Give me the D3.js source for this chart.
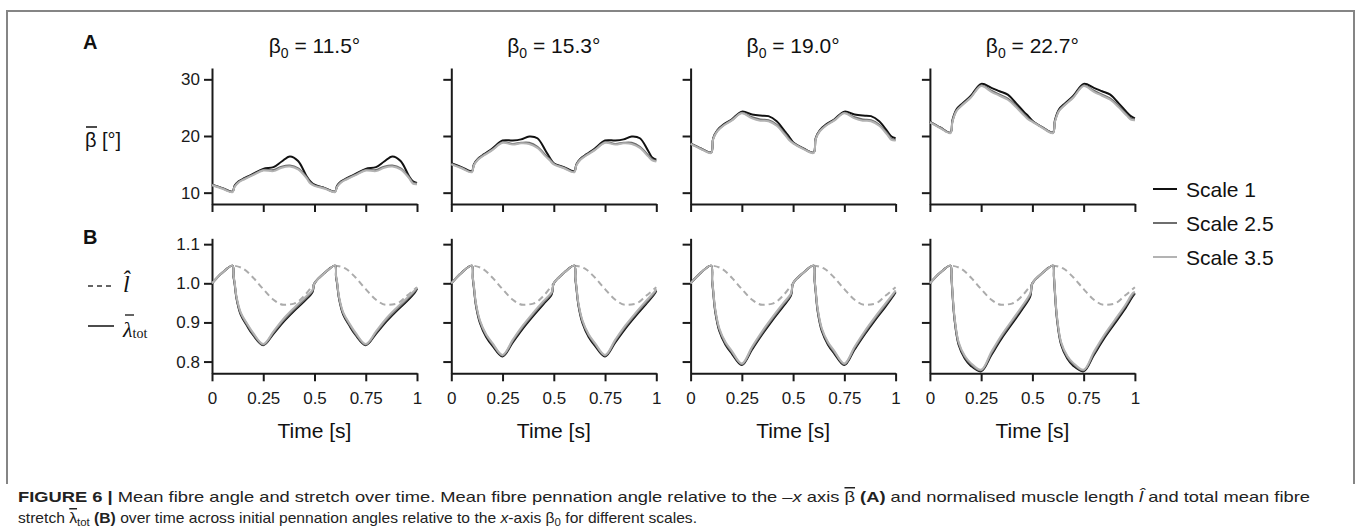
<!DOCTYPE html>
<html>
<head>
<meta charset="utf-8">
<script src="https://d3js.org/d3.v7.min.js"></script>
<style>
  body { margin: 0; background: #fff; }
  svg { display: block; font-family: "Liberation Sans", Arial, sans-serif; }
  .axis path, .axis line { stroke: #1a1a1a; stroke-width: 2; }
  .axis text { font-size: 17px; fill: #1a1a1a; font-family: "Liberation Sans", Arial, sans-serif; }
</style>
</head>
<body>
<script>
// panel titles (initial pennation angle)
var betaZero = ["11.5", "15.3", "19.0", "22.7"];
var scaleNames = ["Scale 1", "Scale 2.5", "Scale 3.5"];
var scaleColors = ["#111111", "#6e6e6e", "#b3b3b3"];

var xTicks = [0, 0.25, 0.5, 0.75, 1];
var yTicksTop = [10, 20, 30];
var yTicksBottom = [0.8, 0.9, 1.0, 1.1];

// time samples for panel A curves
var timeTop = [0, .05, .1, .11, .13, .16, .2, .25, .3, .34, .38, .42, .46, .48, .5,
  .55, .6, .61, .63, .66, .7, .75, .8, .84, .88, .92, .96, .98, 1];

// mean fibre angle [deg], one array per panel
var betaScale1 = [
  [11.4,10.8,10.2,11.2,12.0,12.6,13.3,14.2,14.5,15.5,16.4,15.6,13.0,12.0,11.4, 10.8,10.2,11.2,12.0,12.6,13.3,14.2,14.5,15.5,16.4,15.6,13.0,12.0, 11.7],
  [15.2,14.5,13.8,15.0,16.0,16.8,17.8,19.2,19.2,19.4,19.9,19.6,17.4,16.2,15.2, 14.5,13.8,15.0,16.0,16.8,17.8,19.2,19.2,19.4,19.9,19.6,17.4,16.2, 15.8],
  [18.7,17.8,17.1,19.6,21.0,22.0,22.9,24.3,23.8,23.6,23.5,22.6,20.8,19.9,18.9, 17.8,17.1,19.6,21.0,22.0,22.9,24.3,23.8,23.6,23.5,22.6,20.8,19.9, 19.6],
  [22.5,21.5,20.6,22.8,24.7,25.8,27.1,29.2,28.5,27.9,27.3,25.8,24.2,23.5,22.7, 21.5,20.6,22.8,24.7,25.8,27.1,29.2,28.5,27.9,27.3,25.8,24.2,23.5, 23.1]
];
var betaScale25 = [
  [11.4,10.8,10.2,11.1,11.9,12.5,13.2,14.0,14.0,14.6,14.8,14.3,12.8,11.8,11.3, 10.8,10.2,11.1,11.9,12.5,13.2,14.0,14.0,14.6,14.8,14.3,12.8,11.8, 11.6],
  [15.1,14.4,13.7,14.9,15.9,16.7,17.6,18.9,18.6,18.8,18.8,18.1,16.6,15.9,15.1, 14.4,13.7,14.9,15.9,16.7,17.6,18.9,18.6,18.8,18.8,18.1,16.6,15.9, 15.6],
  [18.7,17.8,17.1,19.5,20.9,21.9,22.8,24.1,23.3,22.9,22.8,22.0,20.4,19.5,18.8, 17.8,17.1,19.5,20.9,21.9,22.8,24.1,23.3,22.9,22.8,22.0,20.4,19.5, 19.3],
  [22.5,21.5,20.6,22.6,24.5,25.6,26.9,28.9,28.0,27.3,26.6,25.3,23.8,23.1,22.6, 21.5,20.6,22.6,24.5,25.6,26.9,28.9,28.0,27.3,26.6,25.3,23.8,23.1, 22.9]
];
var betaScale35 = [
  [11.3,10.7,10.1,11.0,11.8,12.4,13.1,13.9,13.8,14.4,14.6,14.1,12.6,11.6,11.2, 10.7,10.1,11.0,11.8,12.4,13.1,13.9,13.8,14.4,14.6,14.1,12.6,11.6, 11.5],
  [15.0,14.3,13.6,14.8,15.8,16.6,17.5,18.8,18.5,18.7,18.6,17.9,16.4,15.7,15.0, 14.3,13.6,14.8,15.8,16.6,17.5,18.8,18.5,18.7,18.6,17.9,16.4,15.7, 15.5],
  [18.6,17.7,17.0,19.4,20.8,21.8,22.7,24.0,23.1,22.7,22.6,21.8,20.2,19.3,18.7, 17.7,17.0,19.4,20.8,21.8,22.7,24.0,23.1,22.7,22.6,21.8,20.2,19.3, 19.2],
  [22.4,21.4,20.5,22.5,24.4,25.5,26.8,28.8,27.8,27.1,26.4,25.1,23.6,22.9,22.5, 21.4,20.5,22.5,24.4,25.5,26.8,28.8,27.8,27.1,26.4,25.1,23.6,22.9, 22.8]
];

// time samples for panel B stretch curves
var timeBottom = [0, .05, .1, .105, .11, .12, .14, .17, .2, .25, .3, .35, .4, .45, .49, .5,
  .55, .6, .605, .61, .62, .64, .67, .7, .75, .8, .85, .9, .95, .99, 1];

var lambdaScale1 = [
  [1.0,1.027,1.045,1.016,1.0,0.96,0.92,0.892,0.868,0.842,0.871,0.902,0.929,0.954,0.977,1.0, 1.027,1.045,1.016,1.0,0.96,0.92,0.892,0.868,0.842,0.871,0.902,0.929,0.954,0.977, 0.986],
  [1.0,1.027,1.045,1.011,0.989,0.944,0.898,0.863,0.841,0.813,0.849,0.885,0.917,0.947,0.972,1.0, 1.027,1.045,1.011,0.989,0.944,0.898,0.863,0.841,0.813,0.849,0.885,0.917,0.947,0.972, 0.981],
  [1.0,1.027,1.045,1.006,0.979,0.928,0.878,0.843,0.821,0.791,0.831,0.870,0.906,0.940,0.969,1.0, 1.027,1.045,1.006,0.979,0.928,0.878,0.843,0.821,0.791,0.831,0.870,0.906,0.940,0.969, 0.977],
  [1.0,1.027,1.045,1.016,0.974,0.908,0.843,0.808,0.789,0.775,0.817,0.859,0.896,0.933,0.967,1.0, 1.027,1.045,1.016,0.974,0.908,0.843,0.808,0.789,0.775,0.817,0.859,0.896,0.933,0.967, 0.974]
];
var lambdaScale25 = [
  [1.0,1.027,1.045,1.018,1.002,0.962,0.923,0.895,0.871,0.843,0.874,0.906,0.933,0.958,0.980,1.0, 1.027,1.045,1.018,1.002,0.962,0.923,0.895,0.871,0.843,0.874,0.906,0.933,0.958,0.980, 0.988],
  [1.0,1.027,1.045,1.013,0.992,0.947,0.902,0.867,0.845,0.815,0.853,0.889,0.921,0.951,0.975,1.0, 1.027,1.045,1.013,0.992,0.947,0.902,0.867,0.845,0.815,0.853,0.889,0.921,0.951,0.975, 0.983],
  [1.0,1.027,1.045,1.008,0.982,0.932,0.882,0.847,0.825,0.793,0.835,0.874,0.910,0.944,0.972,1.0, 1.027,1.045,1.008,0.982,0.932,0.882,0.847,0.825,0.793,0.835,0.874,0.910,0.944,0.972, 0.979],
  [1.0,1.027,1.045,1.018,0.977,0.912,0.847,0.812,0.793,0.777,0.821,0.864,0.901,0.938,0.971,1.0, 1.027,1.045,1.018,0.977,0.912,0.847,0.812,0.793,0.777,0.821,0.864,0.901,0.938,0.971, 0.976]
];
var lambdaScale35 = [
  [1.0,1.027,1.045,1.020,1.005,0.965,0.926,0.898,0.874,0.845,0.877,0.910,0.937,0.962,0.983,1.0, 1.027,1.045,1.020,1.005,0.965,0.926,0.898,0.874,0.845,0.877,0.910,0.937,0.962,0.983, 0.990],
  [1.0,1.027,1.045,1.015,0.995,0.950,0.905,0.870,0.848,0.817,0.856,0.893,0.925,0.955,0.978,1.0, 1.027,1.045,1.015,0.995,0.950,0.905,0.870,0.848,0.817,0.856,0.893,0.925,0.955,0.978, 0.985],
  [1.0,1.027,1.045,1.010,0.985,0.935,0.885,0.850,0.828,0.795,0.838,0.878,0.914,0.948,0.975,1.0, 1.027,1.045,1.010,0.985,0.935,0.885,0.850,0.828,0.795,0.838,0.878,0.914,0.948,0.975, 0.982],
  [1.0,1.027,1.045,1.020,0.980,0.915,0.850,0.815,0.796,0.779,0.825,0.868,0.905,0.942,0.975,1.0, 1.027,1.045,1.020,0.980,0.915,0.850,0.815,0.796,0.779,0.825,0.868,0.905,0.942,0.975, 0.978]
];

// normalised muscle length (same in every panel)
var timeDash = [0, .05, .1, .15, .2, .25, .3, .35, .4, .45, .5, .55, .6, .65, .7, .75, .8, .85, .9, .95, 1];
var lengthHat = [1.0, 1.027, 1.045, 1.038, 1.015, 0.985, 0.958, 0.945, 0.948, 0.968, 1.0,
  1.027, 1.045, 1.038, 1.015, 0.985, 0.958, 0.945, 0.948, 0.968, 0.99];

var W = 1357, H = 529;
var svg = d3.select("body").append("svg").attr("width", W).attr("height", H);

// frame around the figure
svg.append("path")
  .attr("d", "M7,484V11H1354V484")
  .attr("fill", "none").attr("stroke", "#858585").attr("stroke-width", 2);

var panelLeft = 212, panelStep = 239.3, panelW = 205;
var yTop = d3.scaleLinear().domain([8, 32]).range([204, 68]);
var yBot = d3.scaleLinear().domain([0.77, 1.115]).range([373.3, 238.3]);

var betaSets = [betaScale1, betaScale25, betaScale35];
var lambdaSets = [lambdaScale1, lambdaScale25, lambdaScale35];
var smooth = d3.curveCatmullRom.alpha(0.5);

betaZero.forEach(function(b0, i) {
  var x0 = panelLeft + i * panelStep;
  var x = d3.scaleLinear().domain([0, 1]).range([x0, x0 + panelW]);
  var cx = x0 + panelW / 2;

  // title
  var t = svg.append("text").attr("x", cx).attr("y", 53)
    .attr("text-anchor", "middle").style("font-size", "21px").attr("fill", "#111");
  t.append("tspan").text("β");
  t.append("tspan").attr("dy", 5).style("font-size", "14px").text("0");
  t.append("tspan").attr("dy", -5).text(" = " + b0 + "°");

  // --- panel A
  svg.append("g").attr("class", "axis").attr("transform", "translate(0,204)")
    .call(d3.axisBottom(x).tickValues(xTicks).tickSize(8).tickSizeOuter(0).tickFormat(""));
  svg.append("g").attr("class", "axis").attr("transform", "translate(" + x0 + ",0)")
    .call(d3.axisLeft(yTop).tickValues(yTicksTop).tickSize(8).tickSizeOuter(0)
      .tickPadding(4).tickFormat(i === 0 ? d3.format("d") : ""));

  var lineTop = d3.line().curve(smooth)
    .x(function(d, k) { return x(timeTop[k]); }).y(function(d) { return yTop(d); });
  betaSets.forEach(function(set, s) {
    svg.append("path").attr("d", lineTop(set[i]))
      .attr("fill", "none").attr("stroke", scaleColors[s]).attr("stroke-width", 2)
      .attr("stroke-linejoin", "round");
  });

  // --- panel B
  svg.append("g").attr("class", "axis").attr("transform", "translate(0,373.3)")
    .call(d3.axisBottom(x).tickValues(xTicks).tickSize(8).tickSizeOuter(0).tickPadding(11)
      .tickFormat(d3.format("")));
  svg.append("g").attr("class", "axis").attr("transform", "translate(" + x0 + ",0)")
    .call(d3.axisLeft(yBot).tickValues(yTicksBottom).tickSize(8).tickSizeOuter(0)
      .tickPadding(4).tickFormat(i === 0 ? d3.format(".1f") : ""));

  var lineDash = d3.line().curve(d3.curveMonotoneX)
    .x(function(d, k) { return x(timeDash[k]); }).y(function(d) { return yBot(d); });
  svg.append("path").attr("d", lineDash(lengthHat))
    .attr("fill", "none").attr("stroke", "#ababab").attr("stroke-width", 2)
    .attr("stroke-dasharray", "6,4");

  var lineBot = d3.line().curve(smooth)
    .x(function(d, k) { return x(timeBottom[k]); }).y(function(d) { return yBot(d); });
  lambdaSets.forEach(function(set, s) {
    svg.append("path").attr("d", lineBot(set[i]))
      .attr("fill", "none").attr("stroke", scaleColors[s]).attr("stroke-width", 2)
      .attr("stroke-linejoin", "round");
  });

  svg.append("text").attr("x", cx).attr("y", 438).attr("text-anchor", "middle")
    .style("font-size", "21px").attr("fill", "#111").text("Time [s]");
});

// panel letters
svg.append("text").attr("x", 83).attr("y", 49).style("font-size", "20px")
  .style("font-weight", "bold").attr("fill", "#111").text("A");
svg.append("text").attr("x", 83).attr("y", 244).style("font-size", "20px")
  .style("font-weight", "bold").attr("fill", "#111").text("B");

// y label of panel A
svg.append("text").attr("x", 85).attr("y", 147).style("font-size", "20px")
  .attr("fill", "#111").text("β [°]");
svg.append("line").attr("x1", 86).attr("x2", 97).attr("y1", 127).attr("y2", 127)
  .attr("stroke", "#111").attr("stroke-width", 1.5);

// key for panel B
svg.append("line").attr("x1", 88).attr("x2", 114).attr("y1", 286).attr("y2", 286)
  .attr("stroke", "#333").attr("stroke-width", 1.5).attr("stroke-dasharray", "5,4");
svg.append("text").attr("x", 123).attr("y", 292)
  .style("font-family", "'Liberation Serif', serif").style("font-style", "italic")
  .style("font-size", "24px").attr("fill", "#111").text("l\u0302");
svg.append("line").attr("x1", 88).attr("x2", 114).attr("y1", 326).attr("y2", 326)
  .attr("stroke", "#111").attr("stroke-width", 1.5);
var lam = svg.append("text").attr("x", 123).attr("y", 337)
  .style("font-family", "'Liberation Serif', serif").attr("fill", "#111");
lam.append("tspan").style("font-style", "italic").style("font-size", "22px").text("λ");
lam.append("tspan").style("font-size", "14px").attr("dy", 1).text("tot");
svg.append("line").attr("x1", 125).attr("x2", 134).attr("y1", 315).attr("y2", 315)
  .attr("stroke", "#111").attr("stroke-width", 1.3);

// legend
scaleNames.forEach(function(name, s) {
  var ly = 189 + s * 34;
  svg.append("line").attr("x1", 1153).attr("x2", 1177).attr("y1", ly).attr("y2", ly)
    .attr("stroke", scaleColors[s]).attr("stroke-width", 2);
  svg.append("text").attr("x", 1186).attr("y", ly).attr("dy", "0.36em")
    .style("font-size", "21px").attr("fill", "#111").text(name);
});

// caption
var cap1 = svg.append("text").attr("x", 18).attr("y", 502)
  .attr("textLength", 1292).attr("lengthAdjust", "spacingAndGlyphs")
  .style("font-family", "'Liberation Sans Narrow', 'Liberation Sans', sans-serif")
  .style("font-size", "15px").attr("fill", "#222");
cap1.append("tspan").style("font-weight", "bold").text("FIGURE 6 | ");
cap1.append("tspan").text("Mean fibre angle and stretch over time. Mean fibre pennation angle relative to the \u2013");
cap1.append("tspan").style("font-style", "italic").text("x");
cap1.append("tspan").text(" axis ");
cap1.append("tspan").style("text-decoration", "overline").text("\u03b2");
cap1.append("tspan").text(" ");
cap1.append("tspan").style("font-weight", "bold").text("(A)");
cap1.append("tspan").text(" and normalised muscle length ");
cap1.append("tspan").style("font-style", "italic").text("l\u0302");
cap1.append("tspan").text(" and total mean fibre");

var cap2 = svg.append("text").attr("x", 18).attr("y", 523)
  .attr("textLength", 679).attr("lengthAdjust", "spacingAndGlyphs")
  .style("font-family", "'Liberation Sans Narrow', 'Liberation Sans', sans-serif")
  .style("font-size", "15px").attr("fill", "#222");
cap2.append("tspan").text("stretch ");
cap2.append("tspan").style("text-decoration", "overline").text("\u03bb");
cap2.append("tspan").attr("dy", 3).style("font-size", "11px").text("tot");
cap2.append("tspan").attr("dy", -3).text(" ");
cap2.append("tspan").style("font-weight", "bold").text("(B)");
cap2.append("tspan").text(" over time across initial pennation angles relative to the ");
cap2.append("tspan").style("font-style", "italic").text("x");
cap2.append("tspan").text("-axis \u03b2");
cap2.append("tspan").attr("dy", 3).style("font-size", "11px").text("0");
cap2.append("tspan").attr("dy", -3).text(" for different scales.");
</script>
</body>
</html>
